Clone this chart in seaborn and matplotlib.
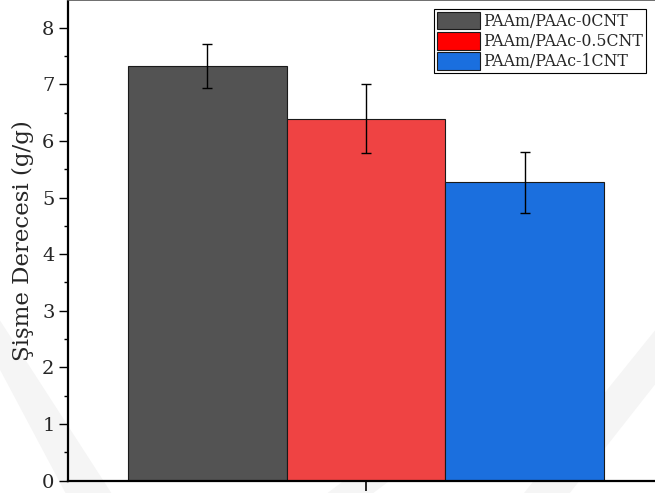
import matplotlib
matplotlib.use("Agg")
import matplotlib.pyplot as plt
from matplotlib.patches import Patch, Polygon
from matplotlib.ticker import MultipleLocator
import seaborn as sns
import pandas as pd

# Swelling degree of PAAm/PAAc hydrogels with different CNT contents
samples = ["PAAm/PAAc-0CNT", "PAAm/PAAc-0.5CNT", "PAAm/PAAc-1CNT"]
means = [7.32, 6.39, 5.27]
errors = [0.39, 0.61, 0.54]

bar_colors = ["#535353", "#EF4343", "#1B6FDE"]
legend_colors = ["#545454", "#FF0000", "#1A6FDF"]

sns.set_theme(style="ticks")
plt.rcParams["font.family"] = ["DejaVu Serif"]

df = pd.DataFrame({"group": ["all"] * len(samples), "sample": samples, "value": means})

fig = plt.figure(figsize=(6.55, 4.93), dpi=100)

# faint background emblem (diagonal bands), in figure fraction coordinates
band_kw = dict(closed=True, facecolor="#f5f5f5", edgecolor="none",
               transform=fig.transFigure, zorder=-10)
fig.patches.append(Polygon([(0.0, 0.35), (0.0, 0.25), (0.10, 0.0), (0.17, 0.0)], **band_kw))
fig.patches.append(Polygon([(0.80, 0.0), (0.87, 0.0), (1.0, 0.22), (1.0, 0.33)], **band_kw))
fig.patches.append(Polygon([(0.50, 0.0), (0.57, 0.0), (0.62, 0.05), (0.58, 0.08)], **band_kw))

ax = fig.add_axes([67.7 / 655, 12.5 / 493, 1 - 67.7 / 655, 480.5 / 493])
ax.patch.set_alpha(0)

sns.barplot(data=df, x="group", y="value", hue="sample", hue_order=samples,
            palette=bar_colors, errorbar=None, width=0.8, saturation=1,
            edgecolor="#1a1a1a", linewidth=0.8, legend=False, ax=ax)

# error bars at the centre of each bar
for patch, m, e in zip(ax.patches, means, errors):
    cx = patch.get_x() + patch.get_width() / 2
    ax.errorbar(cx, m, yerr=e, fmt="none", ecolor="black", elinewidth=1.0,
                capsize=3.6, capthick=1.0, zorder=5)

ax.set_xlim(-0.5005, 0.485)
ax.set_ylim(0, 8.49)
ax.yaxis.set_major_locator(MultipleLocator(1))
ax.yaxis.set_minor_locator(MultipleLocator(0.5))
ax.set_xticks([0])
ax.set_xticklabels([""])
ax.set_xlabel("")
ax.set_ylabel("Şişme Derecesi (g/g)", fontsize=16.5, labelpad=6)

ax.tick_params(axis="y", which="major", direction="out", length=6.5, width=1.0,
               labelsize=14, pad=3, color="black")
ax.tick_params(axis="y", which="minor", direction="out", length=3.2, width=1.0,
               color="black")
ax.tick_params(axis="x", which="major", direction="out", length=7, width=1.2,
               color="black")
for side in ["left", "bottom"]:
    ax.spines[side].set_linewidth(1.6)
    ax.spines[side].set_color("black")
ax.spines["top"].set_linewidth(1.2)
ax.spines["top"].set_color("#555555")
ax.spines["right"].set_visible(False)

handles = [Patch(facecolor=c, edgecolor="#1a1a1a", linewidth=0.8) for c in legend_colors]
leg = fig.legend(handles, samples, loc="upper right",
                 bbox_to_anchor=(645.7 / 655, 1 - 9.3 / 493),
                 fontsize=11.3, frameon=True, fancybox=False, framealpha=1,
                 edgecolor="black", handlelength=2.74, handleheight=1.34,
                 labelspacing=0.15, handletextpad=0.25, borderpad=0.15,
                 borderaxespad=0)
leg.get_frame().set_linewidth(0.8)

fig.savefig("out.png", dpi=100)
